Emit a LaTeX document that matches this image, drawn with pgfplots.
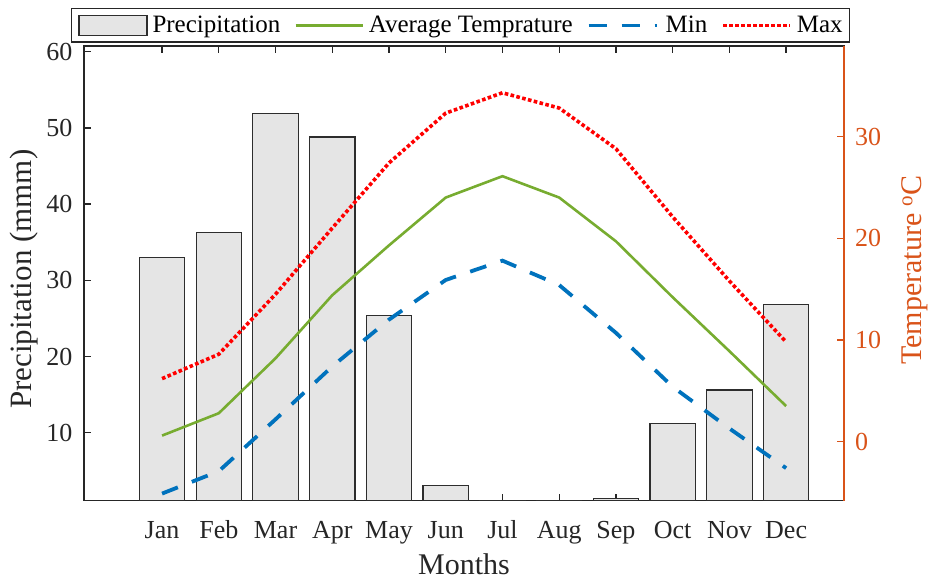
\documentclass[border=0pt]{standalone}
\usepackage{fontspec}
\setmainfont{Liberation Serif}
\usepackage{pgfplots}
\pgfplotsset{compat=1.18}
\definecolor{barfill}{RGB}{229,229,229}
\definecolor{baredge}{RGB}{45,45,45}
\definecolor{axgray}{RGB}{38,38,38}
\definecolor{mgreen}{RGB}{119,172,48}
\definecolor{mblue}{RGB}{0,114,189}
\definecolor{morange}{RGB}{217,83,25}
\pgfplotsset{
  linelegend/.style={legend image code/.code={\draw[##1] (0pt,0pt) -- (#1,0pt);}},
  dashlegend/.style={legend image code/.code={\draw[##1, dash pattern=on 18pt off 15pt on 18pt off 15pt on 2pt] (0pt,0pt) -- (70pt,0pt);}},
  barlegend/.style={legend image code/.code={\draw[fill=barfill, draw=baredge, line width=1.2pt] (0pt,-10pt) rectangle (68pt,10pt);}},
}
\begin{document}
\begin{tikzpicture}
\useasboundingbox (-84pt,-79.3pt) rectangle (844pt,500.7pt);
\begin{axis}[
  at={(0,0)}, anchor=south west,
  scale only axis, width=760pt, height=454.7pt,
  xmin=-0.376, xmax=13.02, ymin=1.08, ymax=60.75,
  xtick={1,...,12},
  xticklabels={Jan,Feb,Mar,Apr,May,Jun,Jul,Aug,Sep,Oct,Nov,Dec},
  ytick={10,20,30,40,50,60},
  ytick pos=left, xtick pos=both,
  tick align=inside, major tick length=7pt,
  axis line style={axgray, line width=1.3pt},
  every tick/.style={axgray, line width=1.3pt},
  /pgf/number format/assume math mode=true,
  tick label style={font=\fontsize{26}{30}\selectfont, text=axgray},
  xticklabel style={anchor=base, inner sep=0pt, yshift=-37.6pt},
  yticklabel style={anchor=east, inner sep=0pt, xshift=-11.3pt},
  xlabel={Months},
  xlabel style={at={(axis description cs:0.5,-0.163)}, anchor=base, font=\fontsize{30}{34}\selectfont, text=axgray},
  ylabel={Precipitation (mmm)},
  ylabel style={at={(axis description cs:-0.079,0.487)}, anchor=center, font=\fontsize{31}{35}\selectfont, text=axgray},
]
\addplot[ybar, bar width=0.8, fill=barfill, draw=baredge, line width=1.2pt] coordinates {
(1,33.0) (2,36.3) (3,51.9) (4,48.8) (5,25.4) (6,3.05) (7,0) (8,0) (9,1.4) (10,11.2) (11,15.6) (12,26.85)
};
\end{axis}
\begin{axis}[
  at={(0,0)}, anchor=south west,
  scale only axis, width=760pt, height=454.7pt,
  xmin=-0.376, xmax=13.02, ymin=-5.8, ymax=38.9,
  axis x line=none, axis y line*=right,
  ytick={0,10,20,30},
  tick align=inside, major tick length=7pt,
  axis line style={morange, line width=1.3pt},
  y tick style={morange, line width=1.3pt},
  /pgf/number format/assume math mode=true,
  yticklabel style={anchor=west, inner sep=0pt, xshift=11pt, text=morange, font=\fontsize{26}{30}\selectfont},
  ylabel={Temperature \textsuperscript{o}C},
  ylabel style={at={(axis description cs:1.093,0.5076)}, anchor=center, font=\fontsize{30}{34}\selectfont, text=morange},
  legend columns=-1,
  legend style={at={(0.5,1)}, anchor=south, yshift=3.3pt, xshift=-3.5pt,
    font=\fontsize{25}{28}\selectfont, draw=axgray, line width=1.3pt,
    inner xsep=7pt, inner ysep=6pt,
    nodes={inner sep=0pt},
    /tikz/every odd column/.append style={column sep=5pt},
    /tikz/every even column/.append style={column sep=14pt}},
]
\addlegendimage{barlegend}
\addlegendentry{Precipitation}
\addplot[mgreen, line width=2.6pt, linelegend=67pt] coordinates {
(1,0.6) (2,2.8) (3,8.2) (4,14.4) (5,19.3) (6,24.0) (7,26.1) (8,24.0) (9,19.7) (10,14.2) (11,8.9) (12,3.5)
};
\addlegendentry{Average Temprature}
\addplot[mblue, line width=3.8pt, dash pattern=on 17pt off 15pt, dashlegend] coordinates {
(1,-5.1) (2,-2.9) (3,2.2) (4,7.4) (5,12.0) (6,15.9) (7,17.8) (8,15.4) (9,10.7) (10,5.4) (11,1.3) (12,-2.6)
};
\addlegendentry{Min}
\addplot[red, line width=3.6pt, dash pattern=on 3.6pt off 2.4pt, linelegend=67pt] coordinates {
(1,6.2) (2,8.6) (3,14.5) (4,21.0) (5,27.4) (6,32.3) (7,34.3) (8,32.8) (9,28.8) (10,22.1) (11,15.8) (12,9.8)
};
\addlegendentry{Max}
\end{axis}
\end{tikzpicture}
\end{document}
